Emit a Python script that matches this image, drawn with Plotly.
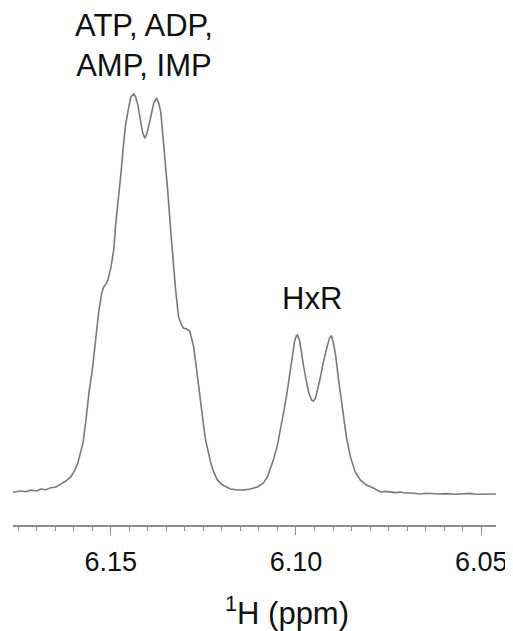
import plotly.graph_objects as go

# Chemical shift (ppm) and intensity (a.u.)
ppm = [6.1764, 6.1743, 6.1730, 6.1716, 6.1700, 6.1689, 6.1675, 6.1662, 6.1648, 6.1635,
       6.1621, 6.1608, 6.1597, 6.1589, 6.1581, 6.1575, 6.1567, 6.1559, 6.1549, 6.1540,
       6.1532, 6.1524, 6.1519, 6.1513, 6.1508, 6.1500, 6.1492, 6.1487, 6.1478, 6.1473,
       6.1465, 6.1460, 6.1454, 6.1446, 6.1438, 6.1433, 6.1427, 6.1419, 6.1414, 6.1408,
       6.1403, 6.1395, 6.1389, 6.1384, 6.1376, 6.1371, 6.1365, 6.1357, 6.1352, 6.1346,
       6.1338, 6.1330, 6.1325, 6.1317, 6.1309, 6.1303, 6.1295, 6.1287, 6.1282, 6.1276,
       6.1271, 6.1265, 6.1257, 6.1249, 6.1244, 6.1236, 6.1230, 6.1222, 6.1212, 6.1198,
       6.1177, 6.1158, 6.1142, 6.1123, 6.1104, 6.1088, 6.1077, 6.1069, 6.1061, 6.1050,
       6.1042, 6.1031, 6.1023, 6.1015, 6.1009, 6.1004, 6.0999, 6.0996, 6.0990, 6.0988,
       6.0980, 6.0974, 6.0966, 6.0958, 6.0953, 6.0947, 6.0939, 6.0934, 6.0926, 6.0920,
       6.0915, 6.0909, 6.0904, 6.0899, 6.0893, 6.0885, 6.0877, 6.0872, 6.0864, 6.0853,
       6.0840, 6.0826, 6.0810, 6.0791, 6.0772, 6.0758, 6.0745, 6.0731, 6.0718, 6.0705,
       6.0691, 6.0678, 6.0664, 6.0650, 6.0637, 6.0624, 6.0611, 6.0597, 6.0584, 6.0570,
       6.0557, 6.0543, 6.0530, 6.0516, 6.0503, 6.0490, 6.0475, 6.0460]
intensity = [0.7, 1.0, 0.8, 1.2, 1.0, 1.5, 1.3, 1.8, 2.0, 2.7,
             3.5, 4.5, 6.2, 8.0, 10.7, 13.0, 18.7, 25.4, 31.9, 38.7,
             46.1, 50.6, 51.9, 52.6, 53.6, 56.6, 61.1, 67.3, 74.8, 79.8,
             88.0, 92.3, 95.5, 99.3, 100.0, 99.3, 97.3, 92.8, 90.3, 89.0,
             90.0, 93.0, 96.0, 97.8, 99.0, 97.8, 95.5, 87.3, 81.5, 75.6,
             65.6, 56.6, 51.1, 44.4, 42.4, 41.6, 41.4, 40.9, 39.2, 36.9,
             33.2, 28.7, 21.9, 17.0, 13.7, 10.0, 8.0, 5.7, 3.7, 2.5,
             1.5, 1.25, 1.25, 1.5, 2.0, 3.0, 4.5, 6.7, 8.7, 12.5,
             16.2, 21.7, 26.2, 31.2, 35.4, 38.2, 39.7, 39.9, 38.4, 36.9,
             32.4, 29.4, 25.7, 23.7, 23.4, 24.2, 27.2, 29.4, 33.2, 35.7,
             37.4, 39.2, 39.7, 37.9, 34.9, 28.7, 22.9, 19.5, 14.5, 9.5,
             5.7, 3.7, 2.5, 1.75, 0.75, 0.9, 0.75, 0.6, 0.75, 0.5,
             0.5, 0.3, 0.25, 0.45, 0.4, 0.2, 0.25, 0.35, 0.25, 0.2,
             0.25, 0.4, 0.4, 0.2, 0.25, 0.3, 0.25, 0.25]

peak_labels = ["ATP, ADP,<br>AMP, IMP", "HxR"]
label_ppm = [6.1411, 6.0956]
label_int = [112.2, 48.9]

x_tickvals = [6.15, 6.10, 6.05]
x_ticktext = ["6.15", "6.10", "6.05"]

FONT = "Arial, Liberation Sans, sans-serif"

fig = go.Figure()
fig.add_trace(go.Scatter(
    x=ppm, y=intensity, mode="lines",
    line=dict(color="#7a7a7a", width=1.6),
    showlegend=False, hoverinfo="skip",
))

for txt, xv, yv in zip(peak_labels, label_ppm, label_int):
    fig.add_annotation(x=xv, y=yv, text=txt, showarrow=False,
                       xref="x", yref="y", xanchor="center", yanchor="middle",
                       font=dict(family=FONT, size=31, color="#111111"))

fig.add_annotation(x=(287 - 13) / 483, y=-0.17, xref="paper", yref="paper",
                   text="<sup>1</sup>H (ppm)", showarrow=False,
                   xanchor="center", yanchor="middle",
                   font=dict(family=FONT, size=31, color="#111111"))

# the page body adds an 8px offset, so the figure is 8px smaller than the window
fig.update_layout(
    width=505, height=623,
    margin=dict(l=5, r=17, t=12, b=106),
    paper_bgcolor="white", plot_bgcolor="white",
    xaxis=dict(
        range=[6.1764, 6.0460], autorange=False, automargin=False,
        showgrid=False, zeroline=False,
        showline=True, linecolor="#8c8c8c", linewidth=1.5,
        ticks="outside", ticklen=8, tickwidth=1.2, tickcolor="#8c8c8c",
        tickvals=x_tickvals, ticktext=x_ticktext,
        tickfont=dict(family=FONT, size=27, color="#111111"),
        ticklabelstandoff=4,
        minor=dict(dtick=0.005, tick0=6.05, ticks="outside", ticklen=4,
                   tickwidth=1, tickcolor="#8c8c8c", showgrid=False),
    ),
    yaxis=dict(range=[-7.48, 118.45], autorange=False, visible=False,
               automargin=False, showgrid=False, zeroline=False),
)

fig.write_html("out.html")
